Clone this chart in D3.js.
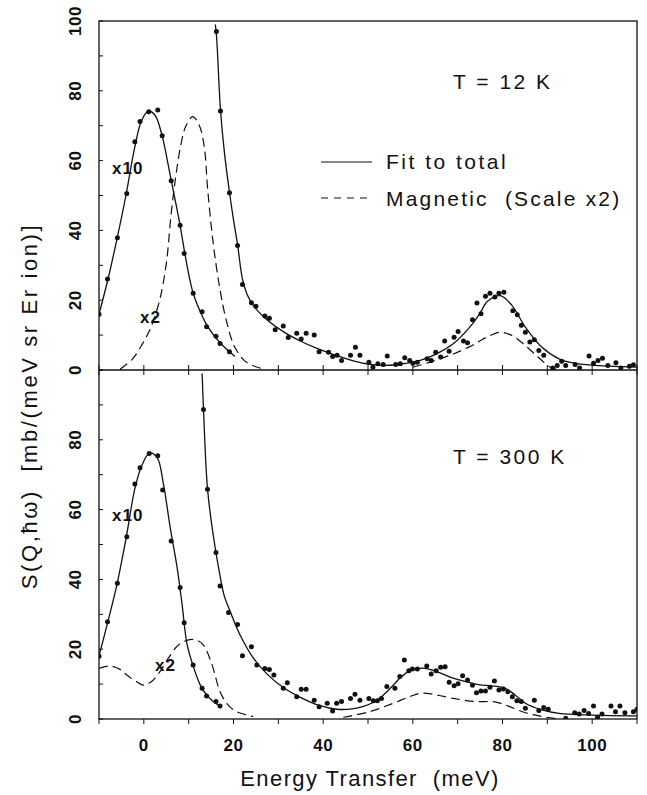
<!DOCTYPE html>
<html>
<head>
<meta charset="utf-8">
<script src="https://cdn.jsdelivr.net/npm/d3@7/dist/d3.min.js"></script>
<style>
  body { margin: 0; background: #fff; }
  text { font-family: "Liberation Sans", Arial, Helvetica, sans-serif; fill: #111; }
</style>
</head>
<body>
<svg id="chart" width="647" height="795"></svg>
<script>
// values, pairs are [energy transfer (meV), S]

// ---- T = 12 K ----
const elastic12Pts = [[-10,16.0],[-8.1,26.1],[-5.9,37.9],[-3.8,50.6],[-2.0,65.4],[-0.85,71.2],[1.1,74.0],[3.1,74.5],
  [4.1,67.1],[6.1,54.2],[8.1,41.5],[9.0,33.4],[11.0,22.0],[13.0,16.7],[14.0,12.4],[16.1,9.7],[17.0,7.6],[19.1,5.2]];
const elastic12Fit = [[-10,16],[-8,26],[-6,37.5],[-4,50],[-2,64],[-0.5,71.5],[1,74.2],[2.5,73],[4,67.5],[6,55],
  [8,42],[9,34.5],[10,27.5],[11,22],[12,18.5],[14,13],[16,9.3],[18,6.5],[20.3,3.9]];
const total12Pts = [[16.2,97],[17.1,74.2],[19.1,50.8],[20.9,35.7],[22.0,24.5],[24.0,19.3],[25.0,18.3],[27.0,15.5],
  [28.0,14.8],[29.3,11.5],[31.1,12.6],[32.2,9.3],[34.1,10.5],[35.1,8.9],[36.2,10.5],[38.0,10.0],[39.1,5.2],
  [41.2,5.1],[42.1,3.9],[43.1,4.2],[44.1,2.7],[46.1,4.2],[47.2,6.5],[48.2,4.2],[50.2,2.2],[51.1,0.8],[52.2,1.8],
  [53.4,1.6],[54.3,4.0],[56.2,1.6],[57.2,1.8],[58.2,3.5],[59.3,2.7],[60.0,1.9],[61.0,2.2],[63.2,3.2],[64.1,2.7],
  [65.1,5.1],[66.2,3.7],[67.1,8.3],[68.1,5.4],[69.2,9.4],[70.1,11.0],[71.3,8.3],[72.2,7.8],[73.3,14.4],[74.3,19.2],
  [75.2,16.1],[76.2,21.1],[77.2,22.0],[78.3,20.9],[79.2,22.0],[80.3,22.3],[82.3,17.0],[83.3,15.8],[84.2,12.8],
  [85.1,10.8],[86.1,8.0],[87.1,8.7],[88.1,5.6],[89.2,4.2],[91.2,0.6],[92.2,1.3],[93.2,2.5],[94.1,1.3],[96.2,1.6],
  [97.2,0.6],[99.3,4.0],[100.3,1.9],[101.3,2.7],[102.3,3.4],[103.5,1.3],[105.3,2.1],[106.4,0.6],[108.3,1.1],[109.2,1.5]];
const total12Fit = [[15.95,99],[16.25,95],[17.1,74.5],[18,62],[19.1,51],[20,43],[20.9,36],[22,26],[23,21.8],
  [24.4,18.5],[27.4,14.5],[31.1,11],[34.9,8.3],[38.6,6.2],[41.6,4.8],[46.7,2.6],[50.4,1.6],[54.1,1.3],[57.8,1.8],
  [61.5,2.7],[65.3,4.6],[69,7.5],[72.7,12.3],[74.9,16.1],[76.6,19.6],[79.5,21.3],[82.1,18.5],[85.1,12.3],
  [88.8,6.5],[92.6,3.2],[96.3,1.9],[103.7,1.1],[110,0.8]];
const magLow12 = [[-5.3,0.2],[-2.5,3.2],[-0.3,7.5],[1.6,12.3],[3.5,19.9],[5.0,30.4],[6.1,44.8],[7.2,56.2],[8.3,64.8],
  [9.4,70],[10.9,72.6],[12.4,70],[13.5,63.8],[14.2,52.4],[15.4,37.1],[16.9,23.7],[18.4,14.2],[20.3,6.5],[22.9,2.2],[26.6,0.3]];
const magHigh12 = [[60,0.8],[63.7,2.2],[69,4.6],[72.7,6.7],[74.9,8.3],[76.8,9.6],[79.5,10.8],[82.1,9.9],[85.1,7.0],
  [88.1,3.5],[90.7,0.8],[92,0.2]];

// ---- T = 300 K ----
const elastic300Pts = [[-10,18.0],[-8.1,27.9],[-5.9,38.9],[-3.8,52.2],[-2.0,67.3],[-0.85,72.0],[1.2,76.1],[3.1,75.4],
  [4.2,65.6],[6.1,51.0],[8.1,37.7],[9.0,27.6],[11.0,15.5],[13.0,8.8],[14.0,6.6],[16.1,5.0],[17.0,3.7]];
const elastic300Fit = [[-10,18],[-8,28],[-6,38.5],[-4,51.5],[-2,66],[-0.5,72.5],[1.3,76.2],[3,74.8],[4.35,67.5],
  [5.85,55.1],[7.4,43.6],[8.5,33.2],[9.6,21.7],[10.8,16],[12.6,9.7],[14,6.9],[15.5,5],[17.2,3.5]];
const total300Pts = [[13.3,88.7],[14.2,65.8],[16.1,47.7],[17.0,38.1],[18.9,30.5],[20.9,27.1],[22.0,18.1],[24.0,20.7],
  [25.2,15.5],[27.0,14.5],[28.0,14.2],[29.0,12.6],[31.1,8.8],[32.0,10.4],[34.1,6.4],[35.1,8.5],[36.2,8.5],[38.0,5.4],
  [39.1,3.5],[40.9,4.5],[42.1,2.3],[43.0,4.5],[44.1,5.0],[46.1,5.9],[47.1,7.1],[48.2,5.4],[50.2,5.9],[51.2,5.2],
  [52.1,5.2],[53.0,5.9],[54.2,9.3],[56.0,8.8],[57.1,12.2],[58.1,16.9],[59.1,13.8],[59.9,14.3],[61.0,14.3],[63.1,15.2],
  [64.1,12.9],[65.2,13.8],[66.2,14.8],[67.2,15.0],[68.1,10.5],[69.2,9.5],[70.1,10.1],[71.1,12.4],[72.2,11.2],
  [73.3,9.7],[74.2,7.5],[75.2,8.0],[76.2,8.0],[77.2,9.1],[78.2,10.9],[79.2,8.3],[80.2,8.6],[81.2,7.8],[82.2,6.4],
  [83.2,5.2],[84.2,5.0],[85.1,3.1],[87.1,5.4],[88.1,2.4],[89.2,3.3],[90.2,2.8],[94.1,0.2],[96.1,1.8],[97.1,1.4],
  [98.2,2.4],[99.2,1.6],[100.3,3.7],[101.2,0.5],[102.2,1.4],[104.2,3.7],[105.2,2.1],[106.2,3.7],[107.3,1.8],
  [109.2,2.1],[110,2.8]];
const total300Fit = [[13.0,99],[13.3,89],[14.2,66],[15.5,52.5],[17,41],[18,35],[19.2,31],[21.5,24],[24.4,17.5],
  [27.4,13],[31.1,9],[34.9,6.2],[39.3,3.8],[43,2.8],[46.5,2.9],[49,3.6],[51.2,4.8],[53.2,6.6],[55.2,9.1],
  [57.2,11.8],[59.3,13.8],[62.3,14.6],[65.3,13.6],[69,11.7],[72.7,10.4],[74.9,9.8],[77.6,9.5],[80.6,8.8],[82.8,6.9],
  [85.1,4.5],[88.8,2.6],[92.6,1.6],[100,1.1],[110,0.9]];
const magLow300 = [[-10,14.5],[-7.5,15.2],[-5,14],[-3.8,12.6],[-2,11],[0,9.7],[1.5,10.5],[3.6,13.6],[5.5,17.5],
  [7.3,20.7],[9,22.2],[10.7,22.8],[12,22.5],[13.3,21.2],[15.1,16],[17,7.8],[18.5,4.5],[20,2.6],[22,1.5],[24.4,0.7]];
const magHigh300 = [[44.5,0.5],[50.4,2.1],[55.6,4.5],[59.3,6.4],[61.9,7.4],[65.3,6.9],[69,5.9],[74,5.0],[78.3,4.9],
  [81.3,3.7],[85.1,1.8],[88.8,0.7],[92.6,0]];

// ---- axes ----
const xTickLabels = [0, 20, 40, 60, 80, 100];
const yTickLabelsTop = [0, 20, 40, 60, 80, 100];
const yTickLabelsBottom = [0, 20, 40, 60, 80];

const svg = d3.select("#chart");
const left = 99, right = 637;

const x = d3.scaleLinear().domain([-10, 110]).range([left, right]);

const panels = [
  { name: "T = 12 K", y: d3.scaleLinear().domain([0, 100]).range([370, 21]),
    elPts: elastic12Pts, elFit: elastic12Fit, totPts: total12Pts, totFit: total12Fit,
    mag: [magLow12, magHigh12], yLabels: yTickLabelsTop, textY: 89,
    x10: [112, 174], x2: [140, 323] },
  { name: "T = 300 K", y: d3.scaleLinear().domain([0, 100]).range([719, 370]),
    elPts: elastic300Pts, elFit: elastic300Fit, totPts: total300Pts, totFit: total300Fit,
    mag: [magLow300, magHigh300], yLabels: yTickLabelsBottom, textY: 464,
    x10: [112, 521], x2: [155, 671] }
];

panels.forEach((p, i) => {
  const y = p.y;
  const clipId = "clip" + i;
  svg.append("clipPath").attr("id", clipId)
    .append("rect")
    .attr("x", left).attr("y", y.range()[1])
    .attr("width", right - left).attr("height", y.range()[0] - y.range()[1]);

  const g = svg.append("g").attr("clip-path", `url(#${clipId})`);

  const line = d3.line()
    .x(d => x(d[0]))
    .y(d => y(d[1]))
    .curve(d3.curveCatmullRom.alpha(0.5));

  // fitted curves
  [p.elFit, p.totFit].forEach(data => {
    g.append("path")
      .attr("d", line(data))
      .attr("fill", "none")
      .attr("stroke", "#111")
      .attr("stroke-width", 1.3);
  });

  // magnetic part, dashed
  p.mag.forEach(data => {
    g.append("path")
      .attr("d", line(data))
      .attr("fill", "none")
      .attr("stroke", "#111")
      .attr("stroke-width", 1.2)
      .attr("stroke-dasharray", "9,5");
  });

  // data points
  g.selectAll("circle.pt")
    .data(p.elPts.concat(p.totPts))
    .enter()
      .append("circle")
      .attr("class", "pt")
      .attr("cx", d => x(d[0]))
      .attr("cy", d => y(d[1]))
      .attr("r", 2.5)
      .attr("fill", "#111");

  // left ticks every 10, pointing in
  const yt = d3.range(0, 101, 10);
  svg.selectAll(null)
    .data(yt)
    .enter()
      .append("line")
      .attr("x1", left).attr("x2", left + 4)
      .attr("y1", d => y(d)).attr("y2", d => y(d))
      .attr("stroke", "#111").attr("stroke-width", 1);

  // y labels, rotated
  svg.selectAll(null)
    .data(p.yLabels)
    .enter()
      .append("text")
      .attr("transform", d => `translate(75,${y(d)}) rotate(-90)`)
      .attr("text-anchor", "middle")
      .attr("dominant-baseline", "central")
      .style("font-size", "17px")
      .style("font-weight", "bold")
      .style("letter-spacing", "0.5px")
      .text(d => d);

  svg.append("text")
    .attr("x", 453).attr("y", p.textY)
    .style("font-size", "21px")
    .style("letter-spacing", "2.5px")
    .text(p.name);

  svg.append("text")
    .attr("x", p.x10[0]).attr("y", p.x10[1])
    .style("font-size", "17px").style("font-weight", "bold")
    .style("letter-spacing", "1px")
    .text("x10");
  svg.append("text")
    .attr("x", p.x2[0]).attr("y", p.x2[1])
    .style("font-size", "17px").style("font-weight", "bold")
    .style("letter-spacing", "1px")
    .text("x2");
});

// x ticks: both sides of middle line, outward at the bottom
const xt = d3.range(-10, 111, 10);
const yTop = panels[0].y, yBot = panels[1].y;
svg.selectAll(null).data(xt).enter().append("line")
  .attr("x1", d => x(d)).attr("x2", d => x(d))
  .attr("y1", yTop(0) - 5).attr("y2", yTop(0) + 5)
  .attr("stroke", "#111");
svg.selectAll(null).data(xt).enter().append("line")
  .attr("x1", d => x(d)).attr("x2", d => x(d))
  .attr("y1", yBot(0)).attr("y2", yBot(0) + 5)
  .attr("stroke", "#111");

// frame
svg.append("rect")
  .attr("x", left).attr("y", yTop(100))
  .attr("width", right - left).attr("height", yBot(0) - yTop(100))
  .attr("fill", "none").attr("stroke", "#111").attr("stroke-width", 1.3);
svg.append("line")
  .attr("x1", left).attr("x2", right)
  .attr("y1", yTop(0)).attr("y2", yTop(0))
  .attr("stroke", "#111").attr("stroke-width", 1.3);

svg.selectAll(null)
  .data(xTickLabels)
  .enter()
    .append("text")
    .attr("x", d => x(d)).attr("y", 751)
    .attr("text-anchor", "middle")
    .style("font-size", "17px")
    .style("font-weight", "bold")
    .style("letter-spacing", "0.5px")
    .text(d => d);

svg.append("text")
  .attr("x", 370).attr("y", 786)
  .attr("text-anchor", "middle")
  .attr("xml:space", "preserve")
  .style("font-size", "22px")
  .style("letter-spacing", "1.4px")
  .text("Energy Transfer  (meV)");

svg.append("text")
  .attr("transform", "translate(37,406) rotate(-90)")
  .attr("text-anchor", "middle")
  .attr("xml:space", "preserve")
  .style("font-size", "22px")
  .style("letter-spacing", "2.6px")
  .text("S(Q,ħω)  [mb/(meV sr Er ion)]");

// legend
const legend = svg.append("g");
legend.append("line")
  .attr("x1", 321).attr("x2", 372).attr("y1", 162).attr("y2", 162)
  .attr("stroke", "#111").attr("stroke-width", 1.2);
legend.append("line")
  .attr("x1", 321).attr("x2", 372).attr("y1", 198).attr("y2", 198)
  .attr("stroke", "#111").attr("stroke-width", 1.2)
  .attr("stroke-dasharray", "7,6");
legend.append("text")
  .attr("x", 386).attr("y", 169)
  .style("font-size", "21px").style("letter-spacing", "2.5px")
  .text("Fit to total");
legend.append("text")
  .attr("x", 386).attr("y", 206)
  .attr("xml:space", "preserve")
  .style("font-size", "21px").style("letter-spacing", "2.2px")
  .text("Magnetic  (Scale x2)");
</script>
</body>
</html>
